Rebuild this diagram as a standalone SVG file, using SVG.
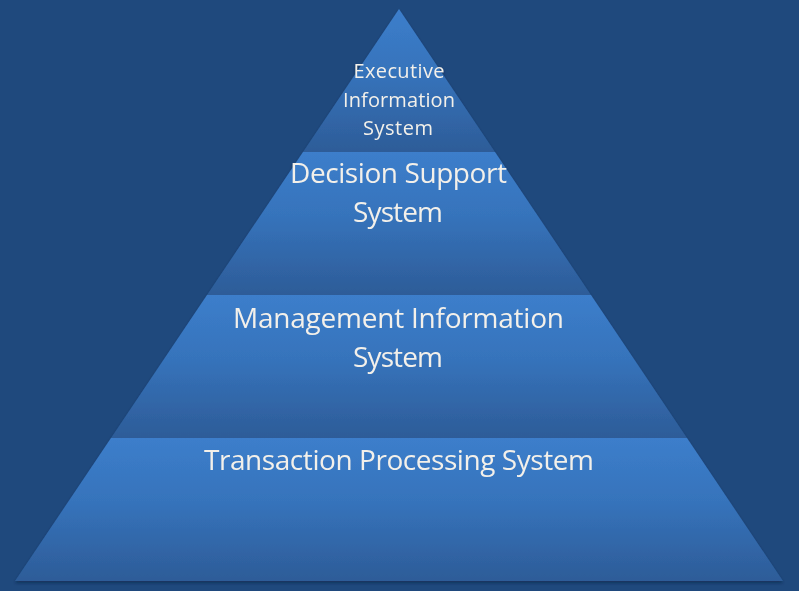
<svg xmlns="http://www.w3.org/2000/svg" width="799" height="591" viewBox="0 0 799 591">
  <defs>
    <linearGradient id="lg" x1="0" y1="0" x2="0" y2="1">
      <stop offset="0" stop-color="#3c7ecb"/>
      <stop offset="0.45" stop-color="#3673bb"/>
      <stop offset="1" stop-color="#2d5c98"/>
    </linearGradient>
    <filter id="sh" x="-5%" y="-5%" width="110%" height="115%">
      <feGaussianBlur in="SourceAlpha" stdDeviation="1.5"/>
      <feOffset dx="0" dy="2" result="b"/>
      <feFlood flood-color="#0e2544" flood-opacity="0.6"/>
      <feComposite in2="b" operator="in"/>
      <feMerge><feMergeNode/><feMergeNode in="SourceGraphic"/></feMerge>
    </filter>
  </defs>
  <style>
    .layer { fill: url(#lg); }
    .lbl { font-family: "Open Sans", "DejaVu Sans", sans-serif; fill: #f3f0ea; text-anchor: middle; }
    .big { font-size: 28px; }
    .small { font-size: 20px; }
  </style>
  <rect x="0" y="0" width="799" height="591" fill="#1f497d"/>
  <g filter="url(#sh)">
    <g id="eis">
      <polygon class="layer" points="399,9 495,152 303,152"/>
      <text class="lbl small" x="399" y="78" textLength="91">Executive</text>
      <text class="lbl small" x="399" y="107" textLength="112">Information</text>
      <text class="lbl small" x="398" y="135" textLength="70">System</text>
    </g>
    <g id="dss">
      <polygon class="layer" points="303,152 495,152 591,295 207,295"/>
      <text class="lbl big" x="398.5" y="183" textLength="217">Decision Support</text>
      <text class="lbl big" x="398" y="222" textLength="90">System</text>
    </g>
    <g id="mis">
      <polygon class="layer" points="207,295 591,295 687,438 111,438"/>
      <text class="lbl big" x="398.5" y="328" textLength="331">Management Information</text>
      <text class="lbl big" x="398" y="367" textLength="90">System</text>
    </g>
    <g id="tps">
      <polygon class="layer" points="111,438 687,438 783,581 15,581"/>
      <text class="lbl big" x="399" y="470" textLength="390">Transaction Processing System</text>
    </g>
  </g>
</svg>
